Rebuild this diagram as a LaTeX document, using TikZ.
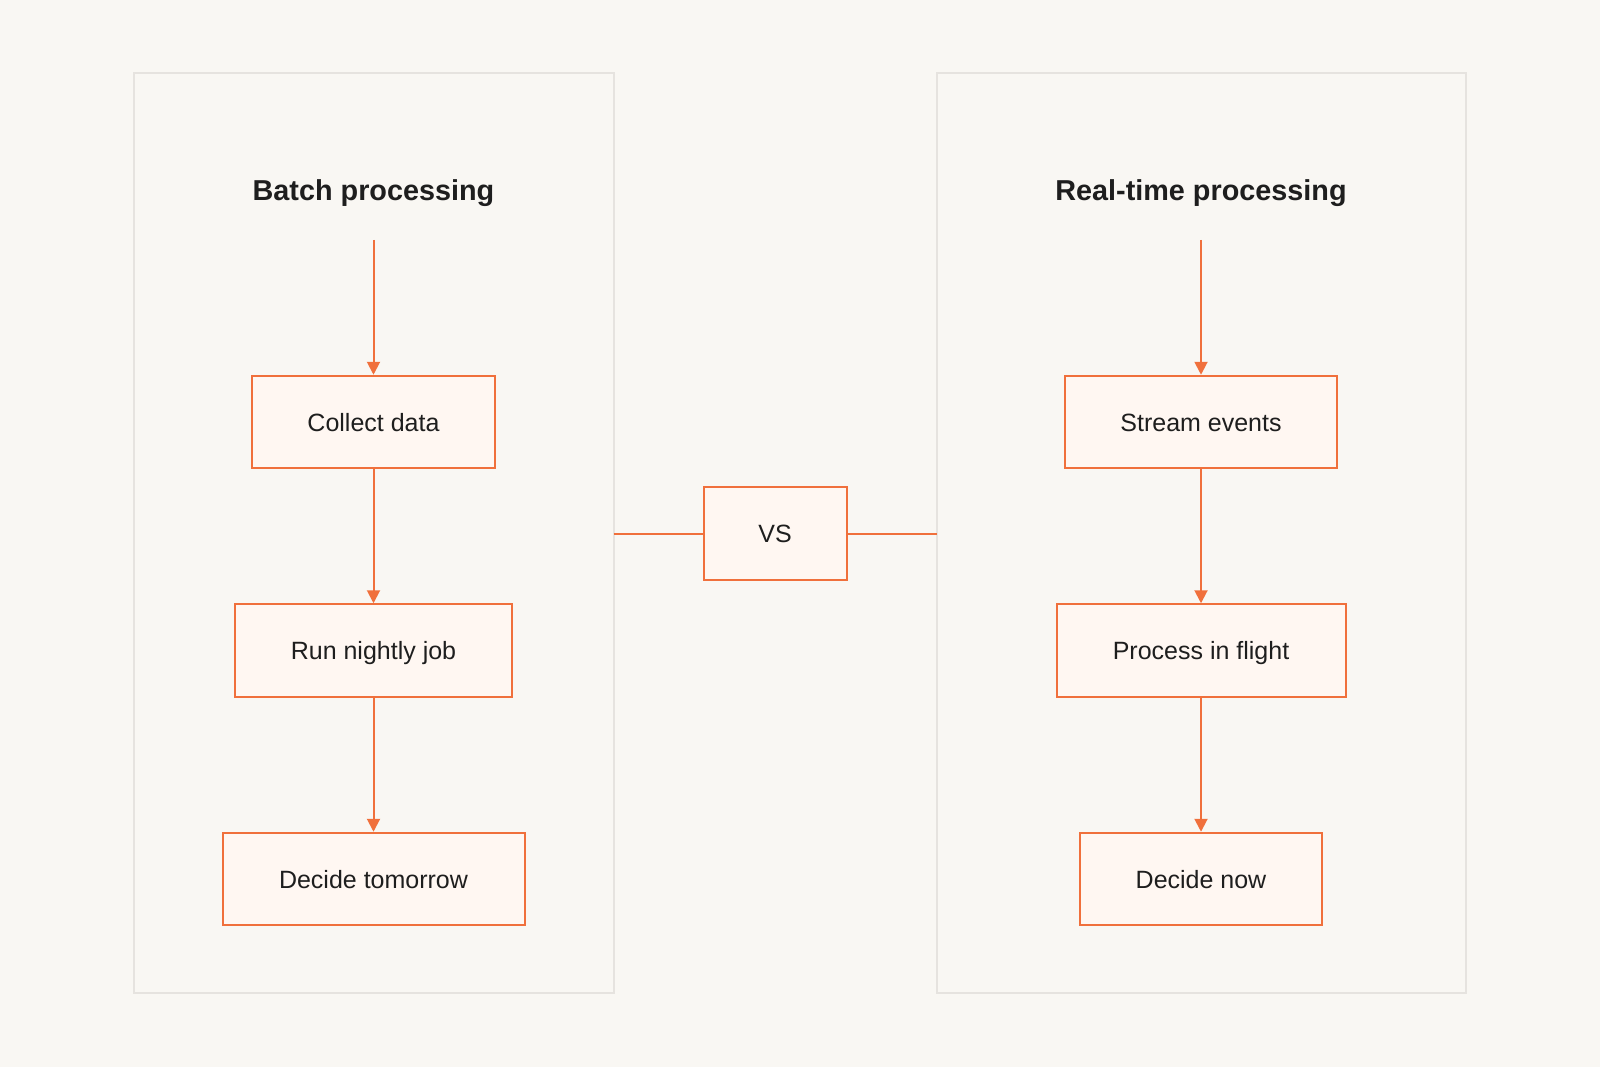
\documentclass[tikz,border=0pt]{standalone}
\usepackage{fontspec}
\setmainfont{Liberation Sans}
\usetikzlibrary{arrows.meta}
\definecolor{bg}{HTML}{F9F7F3}
\definecolor{panelc}{HTML}{E6E3DF}
\definecolor{orng}{HTML}{F0703C}
\definecolor{boxfill}{HTML}{FFF7F2}
\definecolor{txt}{HTML}{1E1E1E}
\tikzset{
  panel/.style={draw=panelc, line width=2pt, fill=bg},
  stepbox/.style={draw=orng, line width=2pt, fill=boxfill, text=txt, font=\fontsize{25}{30}\selectfont, text height=18pt, text depth=0pt, inner sep=0},
  title/.style={text=txt, font=\bfseries\fontsize{28.8}{34}\selectfont},
  flow/.style={draw=orng, line width=2pt, -{Triangle[length=13pt,width=13pt]}},
  link/.style={draw=orng, line width=2pt},
}
\begin{document}
\begin{tikzpicture}[x=1pt,y=-1pt]
\fill[bg] (0,0) rectangle (1600,1067);
\useasboundingbox (0,0) rectangle (1600,1067);
% panels
\path[panel] (134,73.5) rectangle (613.5,993);
\path[panel] (937,73.5) rectangle (1465.5,993);
\node[inner sep=0, minimum width=479.5pt, minimum height=919.5pt] (lp) at (373.75,533.25) {};
\node[inner sep=0, minimum width=528.5pt, minimum height=919.5pt] (rp) at (1201.25,533.25) {};
% titles
\node[title] (t1) at (373.5,193) {Batch processing};
\node[title] (t2) at (1201,193) {Real-time processing};
\coordinate (s1) at (373.5,240);
\coordinate (s2) at (1201,240);
% left boxes
\node[stepbox, minimum width=243pt, minimum height=92.5pt] (a1) at (373.5,422) {Collect data};
\node[stepbox, minimum width=277.5pt, minimum height=92.5pt] (a2) at (373.5,650.5) {Run nightly job};
\node[stepbox, minimum width=302pt, minimum height=92.5pt] (a3) at (373.5,879) {Decide tomorrow};
% right boxes
\node[stepbox, minimum width=272.5pt, minimum height=92.5pt] (b1) at (1201,422) {Stream events};
\node[stepbox, minimum width=289pt, minimum height=92.5pt] (b2) at (1201,650.5) {Process in flight};
\node[stepbox, minimum width=242pt, minimum height=92.5pt] (b3) at (1201,879) {Decide now};
% vs
\node[stepbox, minimum width=143pt, minimum height=92.5pt] (vs) at (775,533.5) {VS};
% arrows
\draw[flow] (s1) -- (a1.north);
\draw[flow] (a1) -- (a2);
\draw[flow] (a2) -- (a3);
\draw[flow] (s2) -- (b1.north);
\draw[flow] (b1) -- (b2);
\draw[flow] (b2) -- (b3);
\draw[link] (lp.east |- vs.west) -- (vs.west);
\draw[link] (vs.east) -- (rp.west |- vs.east);
\end{tikzpicture}
\end{document}
